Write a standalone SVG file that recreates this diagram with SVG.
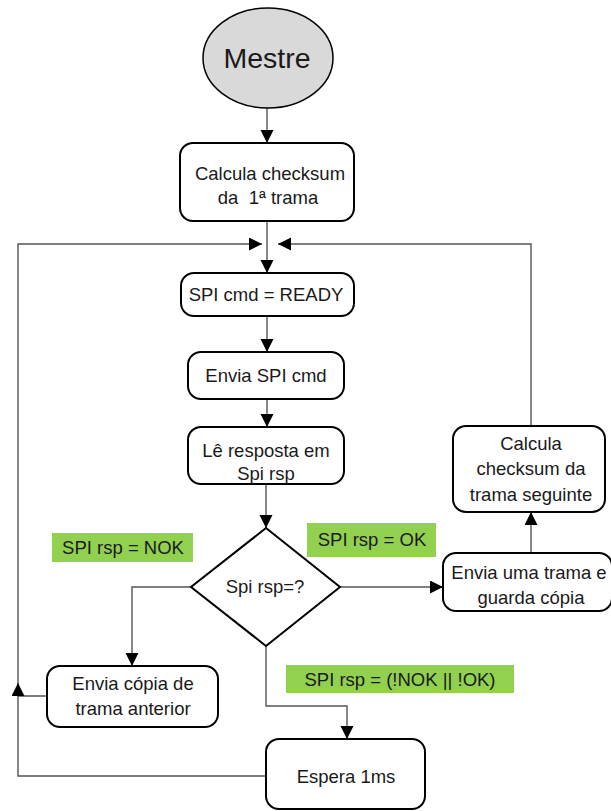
<svg xmlns="http://www.w3.org/2000/svg" width="611" height="811" viewBox="0 0 611 811">
  <style>
    .box { fill: #ffffff; stroke: #000000; stroke-width: 2; }
    .start { fill: #d9d9d9; stroke: #000000; stroke-width: 1.5; }
    .conn { fill: none; stroke: #555555; stroke-width: 1.4; }
    .tag { fill: #92d050; stroke: none; }
    text { font-family: "Liberation Sans", Arial, sans-serif; font-size: 18.5px; fill: #1a1a1a; text-anchor: middle; }
    .big { font-size: 28.5px; }
  </style>
  <defs>
    <marker id="arrow" markerUnits="userSpaceOnUse" markerWidth="14" markerHeight="14" refX="13" refY="6.5" orient="auto">
      <path d="M0,0 L13,6.5 L0,13 Z" fill="#000000"/>
    </marker>
  </defs>

  <!-- connectors -->
  <g id="connectors">
    <path class="conn" d="M267,108 V143" marker-end="url(#arrow)"/>
    <path class="conn" d="M267,221 V273" marker-end="url(#arrow)"/>
    <path class="conn" d="M267,316 V352" marker-end="url(#arrow)"/>
    <path class="conn" d="M267,399 V427" marker-end="url(#arrow)"/>
    <path class="conn" d="M266,484 V528" marker-end="url(#arrow)"/>
    <path class="conn" d="M340,587 H443" marker-end="url(#arrow)"/>
    <path class="conn" d="M191,587 H132 V666" marker-end="url(#arrow)"/>
    <path class="conn" d="M266,646 V706 H347 V739" marker-end="url(#arrow)"/>
    <path class="conn" d="M531,553 V512" marker-end="url(#arrow)"/>
    <path class="conn" d="M531,426 V244 H278" marker-end="url(#arrow)"/>
    <path class="conn" d="M266,776 H18 V244 H262" marker-end="url(#arrow)"/>
    <path class="conn" d="M47,696 H18 V683" marker-end="url(#arrow)"/>
  </g>

  <!-- branch labels -->
  <g id="label-nok">
    <rect class="tag" x="52" y="533" width="141" height="29"/>
    <text x="123" y="554">SPI rsp = NOK</text>
  </g>
  <g id="label-ok">
    <rect class="tag" x="307" y="523" width="129" height="34"/>
    <text x="372" y="546">SPI rsp = OK</text>
  </g>
  <g id="label-other">
    <rect class="tag" x="286" y="665" width="228" height="28"/>
    <text x="400" y="686">SPI rsp = (!NOK || !OK)</text>
  </g>

  <!-- nodes -->
  <g id="mestre">
    <ellipse class="start" cx="268" cy="58" rx="65" ry="50"/>
    <text class="big" x="267" y="68">Mestre</text>
  </g>
  <g id="calcula-primeira">
    <rect class="box" x="180" y="143" width="174" height="78" rx="13"/>
    <text x="270" y="180">Calcula checksum</text>
    <text x="268" y="204" xml:space="preserve">da  1ª trama</text>
  </g>
  <g id="spi-cmd-ready">
    <rect class="box" x="181" y="273" width="173" height="43" rx="13"/>
    <text x="266" y="301">SPI cmd = READY</text>
  </g>
  <g id="envia-spi-cmd">
    <rect class="box" x="188" y="352" width="156" height="47" rx="13"/>
    <text x="266" y="382">Envia SPI cmd</text>
  </g>
  <g id="le-resposta">
    <rect class="box" x="188" y="427" width="156" height="57" rx="13"/>
    <text x="266" y="457">Lê resposta em</text>
    <text x="266" y="480">Spi rsp</text>
  </g>
  <g id="decisao">
    <polygon class="box" points="266,528 340,587 266,646 191,587"/>
    <text x="265" y="593">Spi rsp=?</text>
  </g>
  <g id="calcula-seguinte">
    <rect class="box" x="453" y="426" width="152" height="86" rx="13"/>
    <text x="531" y="450">Calcula</text>
    <text x="531" y="475">checksum da</text>
    <text x="531" y="501">trama seguinte</text>
  </g>
  <g id="envia-trama">
    <rect class="box" x="443" y="553" width="169" height="58" rx="13"/>
    <text x="529" y="579">Envia uma trama e</text>
    <text x="531" y="604">guarda cópia</text>
  </g>
  <g id="envia-copia">
    <rect class="box" x="47" y="666" width="171" height="61" rx="13"/>
    <text x="133" y="690">Envia cópia de</text>
    <text x="133" y="715">trama anterior</text>
  </g>
  <g id="espera">
    <rect class="box" x="266" y="739" width="159" height="70" rx="13"/>
    <text x="346" y="783">Espera 1ms</text>
  </g>
</svg>
